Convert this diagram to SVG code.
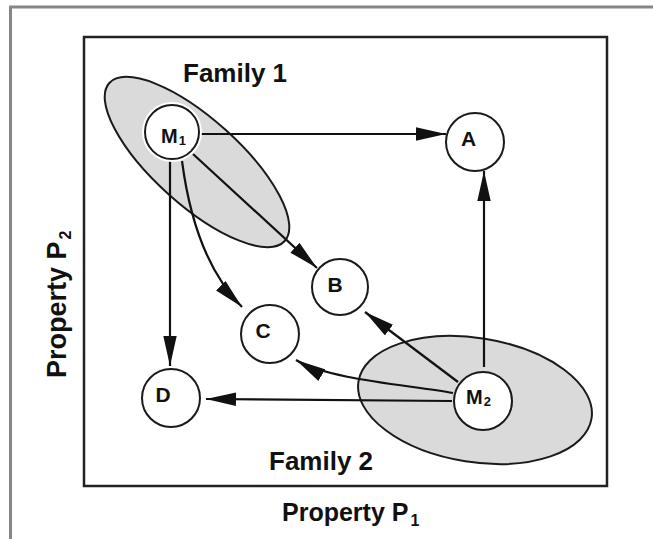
<svg xmlns="http://www.w3.org/2000/svg" width="653" height="539" viewBox="0 0 653 539">
<style>
.lbl{font-family:"Liberation Sans",Arial,Helvetica,sans-serif;font-weight:bold;fill:#111}
.node{fill:#fff;stroke:#1a1a1a;stroke-width:2}
.fam{fill:#dadada;stroke:#1a1a1a;stroke-width:2}
.con{fill:none;stroke:#111;stroke-width:2.2;marker-end:url(#ah)}
</style>
<defs>
<marker id="ah" markerUnits="userSpaceOnUse" viewBox="0 0 30 14" markerWidth="30" markerHeight="14" refX="30" refY="7" orient="auto">
<path d="M0,0.3 L30,7 L0,13.7 z" fill="#111"/>
</marker>
</defs>
<rect width="653" height="539" fill="#fff"/>
<path d="M10.5,539 V7 H653" fill="none" stroke="#868686" stroke-width="3"/>
<rect x="84" y="37" width="523" height="449" fill="none" stroke="#222" stroke-width="2.5"/>

<g id="family1">
<ellipse class="fam" cx="197" cy="162" rx="118" ry="43" transform="rotate(42 197 162)"/>
<text class="lbl" x="183" y="82" font-size="26">Family 1</text>
</g>
<g id="family2">
<ellipse class="fam" cx="475" cy="400" rx="118" ry="62" transform="rotate(9 475 400)"/>
<text class="lbl" x="269" y="470" font-size="26">Family 2</text>
</g>

<g id="connectors">
<path class="con" d="M199,134 H446"/>
<path class="con" d="M484,367 V171"/>
<path class="con" d="M193,154 L317,268"/>
<path class="con" d="M182,161 Q195,260 242,307"/>
<path class="con" d="M170,161 V366"/>
<path class="con" d="M458,382 L365,312"/>
<path class="con" d="M453,393 C410,385 330,380 296,360"/>
<path class="con" d="M452,401 L206,399"/>
</g>

<g id="M1">
<circle cx="172" cy="132" r="30" fill="#fff"/>
<circle class="node" cx="172" cy="132" r="27"/>
<text class="lbl" x="161" y="143" font-size="20">M<tspan font-size="13" dy="1.5" dx="1">1</tspan></text>
</g>
<g id="M2">
<circle class="node" cx="483" cy="401" r="29"/>
<text class="lbl" x="466" y="403.5" font-size="20">M<tspan font-size="13" dy="2" dx="1">2</tspan></text>
</g>
<g id="A">
<circle class="node" cx="475" cy="142" r="29"/>
<text class="lbl" x="468.5" y="146" font-size="21" text-anchor="middle">A</text>
</g>
<g id="B">
<circle class="node" cx="340" cy="287" r="28"/>
<text class="lbl" x="335" y="292" font-size="21" text-anchor="middle">B</text>
</g>
<g id="C">
<circle class="node" cx="270" cy="334" r="29"/>
<text class="lbl" x="263" y="337.5" font-size="21" text-anchor="middle">C</text>
</g>
<g id="D">
<circle class="node" cx="171" cy="398" r="29"/>
<text class="lbl" x="163" y="402" font-size="21" text-anchor="middle">D</text>
</g>

<g id="axes">
<text class="lbl" x="282" y="521" font-size="25">Property P<tspan font-size="16" dy="5" dx="2">1</tspan></text>
<text class="lbl" transform="translate(66,378) rotate(-90)" font-size="27">Property P<tspan font-size="16" dy="5" dx="2">2</tspan></text>
</g>
</svg>
